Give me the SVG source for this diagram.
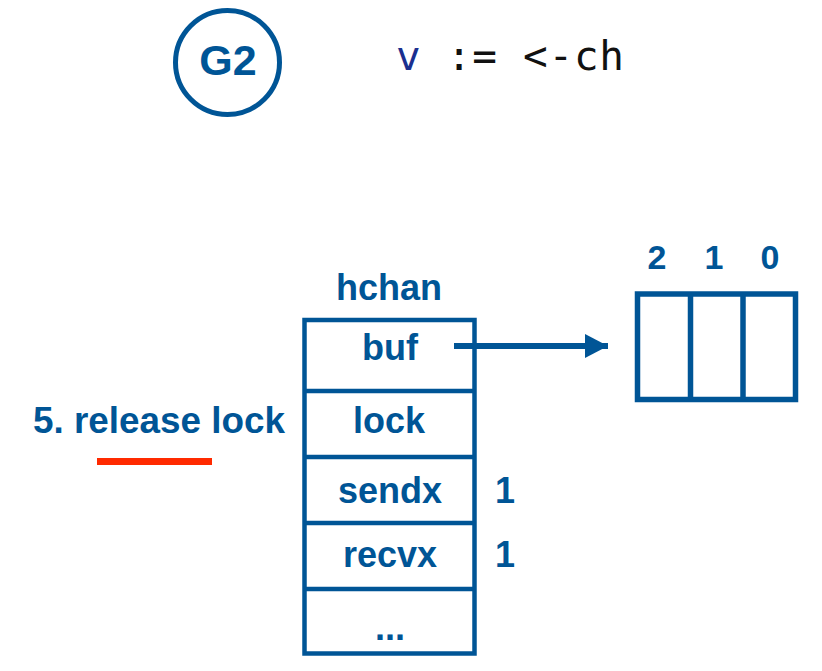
<svg xmlns="http://www.w3.org/2000/svg" width="822" height="671" viewBox="0 0 822 671">
<style>
.b{fill:#005596;font-family:"Liberation Sans",Arial,sans-serif;font-weight:bold;}
.c{text-anchor:middle;}
.box{fill:none;stroke:#005596;stroke-width:4.5;}
.mono{font-family:"DejaVu Sans Mono","Liberation Mono",monospace;font-size:41px;}
</style>
<defs>
<marker id="ah" markerUnits="userSpaceOnUse" markerWidth="24" markerHeight="24" refX="23" refY="12" orient="auto">
<path d="M0,0 L23,12 L0,24 Z" fill="#005596"/>
</marker>
</defs>
<rect width="822" height="671" fill="#ffffff"/>
<g id="g2">
<circle cx="227.5" cy="62.5" r="52" fill="none" stroke="#005596" stroke-width="5"/>
<text x="228" y="75" class="b c" font-size="43">G2</text>
</g>
<g id="code">
<text x="396" y="70" class="mono" textLength="228" lengthAdjust="spacing"><tspan fill="#1a2f8f">v</tspan><tspan fill="#111111"> := &lt;-ch</tspan></text>
</g>
<g id="hchan">
<text x="389" y="300" class="b c" font-size="36">hchan</text>
<rect x="304.5" y="320" width="170" height="333.5" class="box"/>
<line x1="304.5" y1="391" x2="474.5" y2="391" class="box"/>
<line x1="304.5" y1="457" x2="474.5" y2="457" class="box"/>
<line x1="304.5" y1="523" x2="474.5" y2="523" class="box"/>
<line x1="304.5" y1="589" x2="474.5" y2="589" class="box"/>
<text x="390" y="360" class="b c" font-size="36">buf</text>
<text x="389" y="433" class="b c" font-size="36">lock</text>
<text x="390" y="503" class="b c" font-size="36">sendx</text>
<text x="390" y="567" class="b c" font-size="36">recvx</text>
<text x="390" y="640" class="b c" font-size="36">...</text>
<text x="505" y="503" class="b c" font-size="36">1</text>
<text x="505" y="567" class="b c" font-size="36">1</text>
</g>
<g id="buffer">
<rect x="637.5" y="294" width="158" height="105.5" fill="none" stroke="#005596" stroke-width="5.5"/>
<line x1="690.5" y1="294" x2="690.5" y2="399.5" stroke="#005596" stroke-width="5.5"/>
<line x1="743" y1="294" x2="743" y2="399.5" stroke="#005596" stroke-width="5.5"/>
<text x="657" y="269" class="b c" font-size="34">2</text>
<text x="714" y="269" class="b c" font-size="34">1</text>
<text x="770" y="269" class="b c" font-size="34">0</text>
</g>
<g id="step">
<text x="33" y="433" class="b" font-size="37" textLength="252" lengthAdjust="spacingAndGlyphs">5. release lock</text>
<rect x="97" y="458" width="115" height="7" fill="#ff2a00"/>
</g>
<g id="connectors">
<line x1="454" y1="346" x2="608" y2="346" stroke="#005596" stroke-width="6" marker-end="url(#ah)"/>
</g>
</svg>
